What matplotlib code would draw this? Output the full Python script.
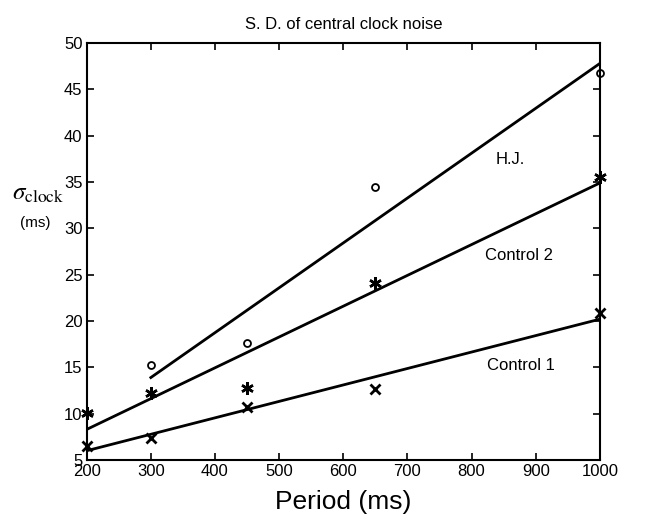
import numpy as np
import matplotlib
matplotlib.use("Agg")
import matplotlib.pyplot as plt

plt.rcParams['font.family'] = ['Liberation Sans', 'DejaVu Sans']
plt.rcParams['mathtext.fontset'] = 'stix'

# data
period_c1 = [200, 300, 450, 650, 1000]
sd_c1 = [6.5, 7.4, 10.7, 12.7, 20.9]
period_c2 = [200, 300, 450, 650, 1000]
sd_c2 = [10.1, 12.2, 12.8, 24.1, 35.5]
period_hj = [300, 450, 650, 1000]
sd_hj = [15.2, 17.6, 34.5, 46.8]

fit_c1 = ([200, 1000], [6.0, 20.2])
fit_c2 = ([200, 1000], [8.3, 34.9])
fit_hj = ([300, 1000], [13.9, 47.8])

fig = plt.figure(figsize=(6.52, 5.19), dpi=100)
ax = fig.add_axes([0.133, 0.1137, 0.787, 0.8033])

ax.plot(*fit_c1, color='black', lw=2)
ax.plot(*fit_c2, color='black', lw=2)
ax.plot(*fit_hj, color='black', lw=2)

ax.plot(period_c1, sd_c1, ls='none', marker='x', ms=7, mew=2, color='black', clip_on=False)
ax.plot(period_c2, sd_c2, ls='none', marker=(6, 2, 0), ms=9, mew=1.8, color='black', clip_on=False)
ax.plot(period_hj, sd_hj, ls='none', marker='o', ms=5, mew=1.3, mfc='white', color='black', clip_on=False)

ax.text(860, 37.4, 'H.J.', fontsize=12, ha='center', va='center')
ax.text(874, 27.1, 'Control 2', fontsize=12, ha='center', va='center')
ax.text(877, 15.2, 'Control 1', fontsize=12, ha='center', va='center')

ax.set_xlim(200, 1000)
ax.set_ylim(5, 50)
ax.set_xticks(np.arange(200, 1001, 100))
ax.set_yticks(np.arange(5, 51, 5))
ax.tick_params(direction='in', top=True, right=True, labelsize=12, length=5, width=1.2, pad=3)
for s in ax.spines.values():
    s.set_linewidth(1.5)

ax.set_title('S. D. of central clock noise', fontsize=12, pad=10)
ax.set_xlabel('Period (ms)', fontsize=19, labelpad=8)
fig.text(0.058, 0.628, r'$\sigma_{\mathrm{clock}}$', fontsize=18, ha='center', va='center')
fig.text(0.054, 0.570, '(ms)', fontsize=11, ha='center', va='center')

fig.savefig('out.png', dpi=100)
